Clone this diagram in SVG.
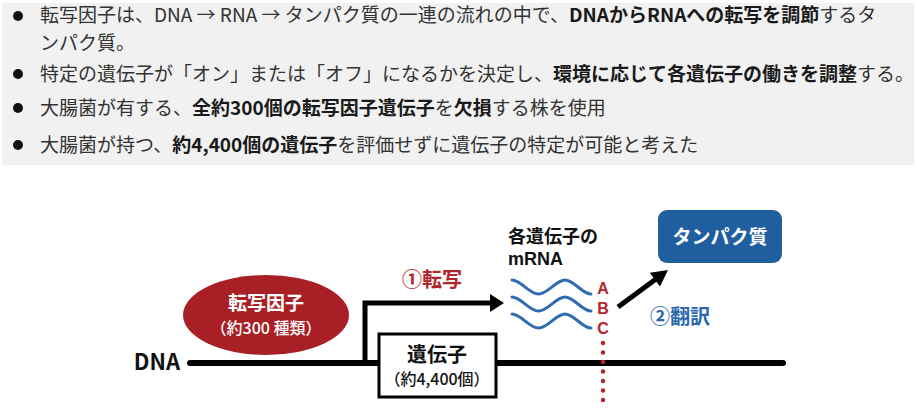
<svg xmlns="http://www.w3.org/2000/svg" width="917" height="418" viewBox="0 0 917 418">
<style>
text{font-family:"Noto Sans CJK JP","Noto Sans",sans-serif}
.t{font-size:19px;fill:#333}
.b{font-weight:bold;fill:#1a1a1a}
.lbl{font-weight:bold;text-anchor:middle}
.lat{font-family:"Liberation Sans",Arial,sans-serif}
.wave{fill:none;stroke:#2f6db0;stroke-width:3;stroke-linecap:round}
.thick{fill:none;stroke:#000;stroke-width:5}
</style>
<rect x="2" y="3" width="912" height="162" fill="#f1f1f1"/>
<g id="bullets" fill="#111">
<circle cx="18" cy="16" r="5"/>
<circle cx="18" cy="74" r="5"/>
<circle cx="18" cy="108" r="5"/>
<circle cx="18" cy="145" r="5"/>
</g>
<g id="text-lines">
<text class="t" x="40" y="22">転写因子は、DNA → RNA → タンパク質の一連の流れの中で、<tspan class="b">DNAからRNAへの転写を調節</tspan>するタ</text>
<text class="t" x="40" y="50">ンパク質。</text>
<text class="t" x="40" y="81">特定の遺伝子が「オン」または「オフ」になるかを決定し、<tspan class="b">環境に応じて各遺伝子の働きを調整</tspan>する。</text>
<text class="t" x="40" y="115">大腸菌が有する、<tspan class="b">全約300個の転写因子遺伝子</tspan>を<tspan class="b">欠損</tspan>する株を使用</text>
<text class="t" x="40" y="152">大腸菌が持つ、<tspan class="b">約4,400個の遺伝子</tspan>を評価せずに遺伝子の特定が可能と考えた</text>
</g>
<g id="connectors">
<line x1="190" y1="363" x2="783" y2="363" stroke="#000" stroke-width="6" stroke-linecap="round"/>
<polyline class="thick" points="365,363 365,303 491,303"/>
<polygon points="490,294 504,303 490,312" fill="#000"/>
<line x1="618" y1="307" x2="656" y2="279" stroke="#000" stroke-width="5"/>
<polygon points="668,270 660,286.5 649.8,272.8" fill="#000"/>
<line x1="603" y1="343" x2="603" y2="405" stroke="#b3262c" stroke-width="4.5" stroke-linecap="round" stroke-dasharray="0 9.5"/>
</g>
<g id="dna-label"><text class="lbl" x="157" y="370" font-size="22" fill="#111">DNA</text></g>
<g id="tf">
<ellipse cx="266" cy="315" rx="83" ry="40" fill="#a81f25"/>
<text class="lbl" x="266" y="310" font-size="19" fill="#fff">転写因子</text>
<text class="lbl" x="266" y="334" font-size="16" fill="#fff" style="font-weight:500">（約300 種類）</text>
</g>
<g id="transcription-label"><text class="lbl" x="432" y="287" font-size="20" fill="#b3262c">①転写</text></g>
<g id="gene">
<rect x="379" y="334" width="117" height="63" fill="#fff" stroke="#000" stroke-width="3"/>
<text class="lbl" x="437" y="362" font-size="20" fill="#111">遺伝子</text>
<text class="lbl" x="437" y="385" font-size="16" fill="#111" style="font-weight:500">（約4,400個）</text>
</g>
<g id="mrna">
<text x="508" y="243" font-size="18" font-weight="bold" fill="#111">各遺伝子の</text>
<text class="lat" x="508" y="265" font-size="18" font-weight="bold" fill="#111">mRNA</text>
<path class="wave" d="M512,280 C521,280 529,294 538.5,294 C548,294 556,280 565,280 C574,280 582,294 591,294"/>
<path class="wave" d="M512,297 C521,297 529,311 538.5,311 C548,311 556,297 565,297 C574,297 582,311 591,311"/>
<path class="wave" d="M512,314 C521,314 529,328 538.5,328 C548,328 556,314 565,314 C574,314 582,328 591,328"/>
<text class="lbl lat" x="603" y="294" font-size="16" fill="#b3262c">A</text>
<text class="lbl lat" x="603" y="314" font-size="16" fill="#b3262c">B</text>
<text class="lbl lat" x="603" y="334" font-size="16" fill="#b3262c">C</text>
</g>
<g id="translation-label"><text class="lbl" x="680" y="324" font-size="20" fill="#2a67ad">②翻訳</text></g>
<g id="protein">
<rect x="658" y="210" width="124" height="53" rx="9" fill="#1f5e9f"/>
<text class="lbl" x="720" y="244" font-size="19" fill="#fff">タンパク質</text>
</g>
</svg>
